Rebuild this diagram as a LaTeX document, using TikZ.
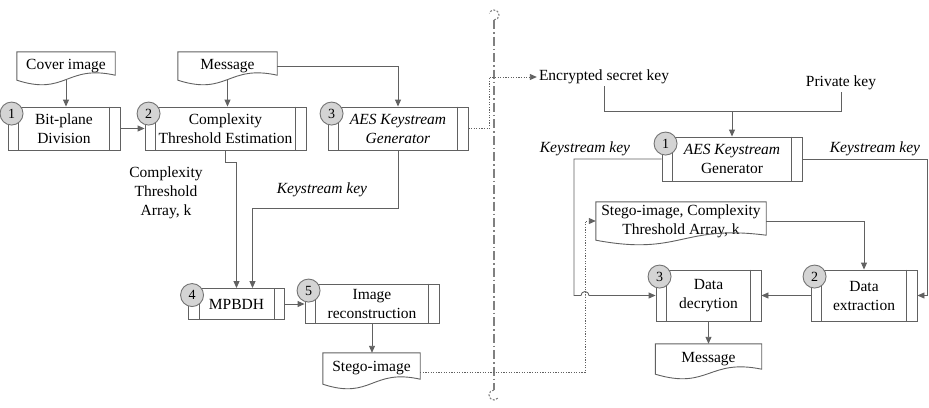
\documentclass[tikz,border=0pt]{standalone}
\usepackage{fontspec}
\setmainfont{Liberation Serif}
\usetikzlibrary{arrows.meta,calc,positioning}

\tikzset{
    linea/.style={draw=black!62, line width=0.9pt},
    flecha/.style={linea, -{Triangle[length=7pt, width=6pt]}},
    punteada/.style={linea, dash pattern=on 1.2pt off 1.4pt},
    flechapunteada/.style={punteada, -{Triangle[length=7pt, width=6pt]}},
    proceso/.style={linea, align=center, inner sep=0pt},
    documento/.style={align=center, inner sep=0pt},
    etiqueta/.style={align=center, inner sep=2pt},
    cursiva/.style={etiqueta, font=\fontsize{15.5}{19}\selectfont\itshape},
    numero/.style={circle, draw=black!55, fill=black!17, line width=0.9pt,
        minimum size=23pt, inner sep=0pt, font=\fontsize{14}{16}\selectfont},
    divisor/.style={draw=black!50, line width=1.1pt,
        dash pattern=on 9pt off 3pt on 1.5pt off 3pt},
}

% barras laterales del proceso
\newcommand{\barras}[1]{%
    \draw[linea] ([xshift=11pt]#1.north west) -- ([xshift=11pt]#1.south west);
    \draw[linea] ([xshift=-11pt]#1.north east) -- ([xshift=-11pt]#1.south east);}
% hoja con borde ondulado
\newcommand{\hoja}[1]{%
    \draw[linea] (#1.south west) -- (#1.north west) -- (#1.north east)
        -- ([yshift=5pt]#1.south east)
        .. controls ($(#1.south)+(0,-16)$) and ($(#1.south)+(0,16)$) .. (#1.south west) -- cycle;}

\begin{document}
\begin{tikzpicture}[x=1pt, y=-1pt, font=\fontsize{15.5}{19}\selectfont]
    \useasboundingbox (0,0) rectangle (929,407);

    % Divisor
    \coordinate (arriba) at (494,20);
    \coordinate (abajo) at (494,390);
    \draw[divisor] (arriba) -- (abajo);
    \draw[divisor, dash pattern=on 2pt off 1.5pt]
        (arriba) arc[start angle=-90, end angle=160, radius=5pt];
    \draw[divisor, dash pattern=on 2pt off 1.5pt]
        (abajo) arc[start angle=90, end angle=320, radius=5pt];

    % Emisor
    \node[documento, minimum width=98pt, minimum height=28pt] (cover) at (66,66) {Cover image};
    \node[documento, minimum width=99pt, minimum height=28pt] (msg) at (227.5,66) {Message};
    \node[proceso, minimum width=112pt, minimum height=43pt] (division) at (64,128.5) {Bit-plane\\Division};
    \node[proceso, minimum width=161pt, minimum height=43pt] (umbral) at (225.5,128.5) {Complexity\\Threshold Estimation};
    \node[proceso, minimum width=140pt, minimum height=43pt] (aes) at (398,128.5) {\textit{AES Keystream}\\\textit{Generator}};
    \node[proceso, minimum width=96pt, minimum height=31pt] (mpbdh) at (236.5,304) {MPBDH};
    \node[proceso, minimum width=134pt, minimum height=39pt] (recon) at (372,303.5) {Image\\reconstruction};
    \node[documento, minimum width=97pt, minimum height=31pt] (stego) at (371.5,368.5) {Stego-image};
    \node[etiqueta] (arreglo) at (166,193) {Complexity\\Threshold\\Array, k};
    \node[cursiva] (ks1) at (322,190) {Keystream key};

    % Receptor
    \node[etiqueta] (clave) at (604,77) {Encrypted secret key};
    \node[etiqueta] (privada) at (841,83) {Private key};
    \node[proceso, minimum width=140pt, minimum height=44pt] (gen) at (732,159) {\textit{AES Keystream}\\Generator};
    \node[documento, minimum width=170pt, minimum height=38pt] (sdoc) at (681,221) {Stego-image, Complexity\\Threshold Array, k};
    \node[proceso, minimum width=106pt, minimum height=51pt] (extr) at (864,295.5) {Data\\extraction};
    \node[proceso, minimum width=105pt, minimum height=51pt] (decr) at (708.5,295.5) {Data\\decrytion};
    \node[documento, minimum width=106pt, minimum height=30pt] (rmsg) at (708.5,359) {Message};
    \node[cursiva] (ks2) at (585,149) {Keystream key};
    \node[cursiva] (ks3) at (875,149) {Keystream key};

    % Barras, hojas y numeros
    \foreach \caja in {division, umbral, aes, mpbdh, recon, gen, extr, decr}
        \barras{\caja};
    \foreach \d in {cover, msg, stego, sdoc, rmsg}
        \hoja{\d};
    \foreach \caja/\n in {division/1, umbral/2, aes/3, mpbdh/4, recon/5, gen/1, extr/2, decr/3}
        \node[numero] (n-\caja) at ([shift={(4,7)}]\caja.north west) {\n};

    % Conexiones emisor
    \draw[flecha] (cover.south) -- (cover.south |- division.north);
    \draw[flecha] (msg.south) -- (msg.south |- umbral.north);
    \draw[flecha] (msg.east) -| (aes.north);
    \draw[flecha] (division.east) -- (umbral.west);
    \draw[flecha] (umbral.south) -- ++(0,12) -| (mpbdh.north);
    \draw[flecha] (aes.south) -- ++(0,58) -| ([xshift=16pt]mpbdh.north);
    \draw[flecha] (mpbdh.east) -- (mpbdh.east -| recon.west);
    \draw[flecha] (recon.south) -- (recon.south |- stego.north);
    \draw[flechapunteada] (aes.east) -- ++(21,0) |- (clave.west);

    % Conexiones receptor
    \coordinate (union) at (732,111);
    \coordinate (cruce) at (585,295.5);
    \draw[linea] (clave.south) |- (union);
    \draw[linea] (privada.south) |- (union);
    \draw[flecha] (union) -- (gen.north);
    \draw[flecha] (gen.west) -| ([xshift=-11pt]cruce) -- ([xshift=-4pt]cruce)
        arc[start angle=180, end angle=0, radius=4pt] -- (decr.west);
    \draw[flecha] (gen.east) -- ++(125,0) |- (extr.east);
    \draw[flecha] (sdoc.east) -| (extr.north);
    \draw[flecha] (extr.west) -- (decr.east);
    \draw[flecha] (decr.south) -- (rmsg.north);
    \draw[flechapunteada] ([yshift=-4pt]stego.east) -| (cruce) |- (sdoc.west);
\end{tikzpicture}
\end{document}
